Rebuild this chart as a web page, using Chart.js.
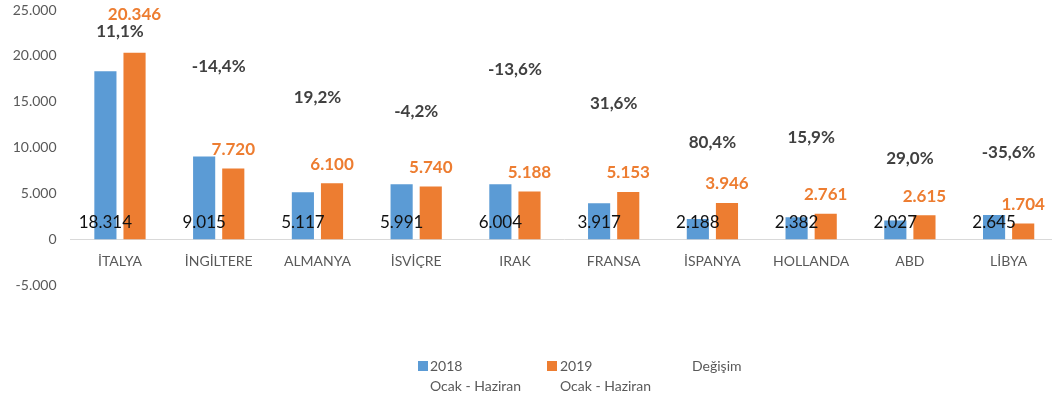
<!DOCTYPE html>
<html lang="tr">
<head>
<meta charset="utf-8">
<script src="https://cdn.jsdelivr.net/npm/chart.js@4/dist/chart.umd.min.js"></script>
<style>
  html, body { margin: 0; padding: 0; background: #fff; overflow: hidden; }
  #wrap { position: relative; width: 1052px; height: 403px; overflow: hidden; }
  #chart { position: absolute; left: 0; top: 0; }
  .lej { position: absolute; font: 14px Lato, sans-serif; color: #595959; line-height: 20px; white-space: nowrap; }
  .kutu { position: absolute; width: 10px; height: 10px; }
</style>
</head>
<body>
<div id="wrap">
  <canvas id="chart" width="1062" height="403"></canvas>
  <div class="kutu" style="left:418px;top:361px;background:#5B9BD5"></div>
  <div class="lej" style="left:430px;top:356px">2018<br>Ocak - Haziran</div>
  <div class="kutu" style="left:547px;top:361px;background:#ED7D31"></div>
  <div class="lej" style="left:560px;top:356px">2019<br>Ocak - Haziran</div>
  <div class="lej" style="left:692px;top:356px">Değişim</div>
</div>
<script>
// Veriler
const kategoriler = ['İTALYA', 'İNGİLTERE', 'ALMANYA', 'İSVİÇRE', 'IRAK', 'FRANSA', 'İSPANYA', 'HOLLANDA', 'ABD', 'LİBYA'];
const y2018 = [18314, 9015, 5117, 5991, 6004, 3917, 2188, 2382, 2027, 2645];
const y2019 = [20346, 7720, 6100, 5740, 5188, 5153, 3946, 2761, 2615, 1704];
const degisim = [11.1, -14.4, 19.2, -4.2, -13.6, 31.6, 80.4, 15.9, 29.0, -35.6];

// Değişim etiketlerinin yüksekliği (sol eksen biriminde, elle yerleştirilmiş)
const degisimEtiketY = [22650, 18800, 15400, 13900, 18500, 14800, 10500, 11050, 8850, 9500];

const FONT = 'Lato, sans-serif';

function binlik(v) {
  const s = String(Math.abs(v)).replace(/\B(?=(\d{3})+(?!\d))/g, '.');
  return (v < 0 ? '-' : '') + s;
}
function yuzde(v) {
  return v.toFixed(1).replace('.', ',') + '%';
}

// Etiketler
const etiketPlugin = {
  id: 'etiketler',
  afterDatasetsDraw(chart) {
    const ctx = chart.ctx;
    const xs = chart.scales.x;
    const ys = chart.scales.y;
    const sifir = ys.getPixelForValue(0);
    const m0 = chart.getDatasetMeta(0).data;
    const m1 = chart.getDatasetMeta(1).data;
    ctx.save();
    ctx.textAlign = 'center';
    ctx.textBaseline = 'middle';

    kategoriler.forEach((k, i) => {
      // 2018 - çubuğun dibinde
      ctx.font = '17px ' + FONT;
      ctx.fillStyle = '#111';
      ctx.fillText(binlik(y2018[i]), m0[i].x, sifir - 17);

      // değişim
      const dy = ys.getPixelForValue(degisimEtiketY[i]);
      ctx.font = 'bold 17px ' + FONT;
      ctx.fillStyle = '#404040';
      ctx.fillText(yuzde(degisim[i]), xs.getPixelForValue(i), dy);

      // 2019 - çubuğun üstünde
      let ty = m1[i].y - 19;
      if (Math.abs(ty - dy) < 18) ty = dy - 17;
      ctx.font = 'bold 17px ' + FONT;
      ctx.fillStyle = '#ED7D31';
      ctx.fillText(binlik(y2019[i]), m1[i].x, ty);
    });
    ctx.restore();
  }
};

new Chart(document.getElementById('chart').getContext('2d'), {
  type: 'bar',
  data: {
    labels: kategoriler,
    datasets: [
      { label: '2018 Ocak - Haziran', data: y2018, backgroundColor: '#5B9BD5' },
      { label: '2019 Ocak - Haziran', data: y2019, backgroundColor: '#ED7D31' }
    ]
  },
  options: {
    responsive: false,
    animation: false,
    barPercentage: 0.76,
    categoryPercentage: 0.59,
    layout: { padding: { left: 12, right: 4, top: 0, bottom: 118 } },
    plugins: {
      legend: { display: false },
      tooltip: { enabled: false }
    },
    scales: {
      x: {
        position: { y: 0 },
        grid: { display: false },
        border: { display: true, color: '#d9d9d9', width: 1 },
        ticks: { color: '#595959', font: { family: FONT, size: 14 }, padding: 6, maxRotation: 0, autoSkip: false }
      },
      y: {
        min: -5000,
        max: 25000,
        afterFit: s => {
          s.width = 58.6;
          s.paddingTop = 10;
          s.paddingBottom = 10;
        },
        grid: { display: false, drawTicks: false },
        border: { display: false },
        ticks: {
          stepSize: 5000,
          padding: 14,
          color: '#595959',
          font: { family: FONT, size: 14 },
          callback: v => binlik(v)
        }
      }
    }
  },
  plugins: [etiketPlugin]
});
</script>
</body>
</html>
